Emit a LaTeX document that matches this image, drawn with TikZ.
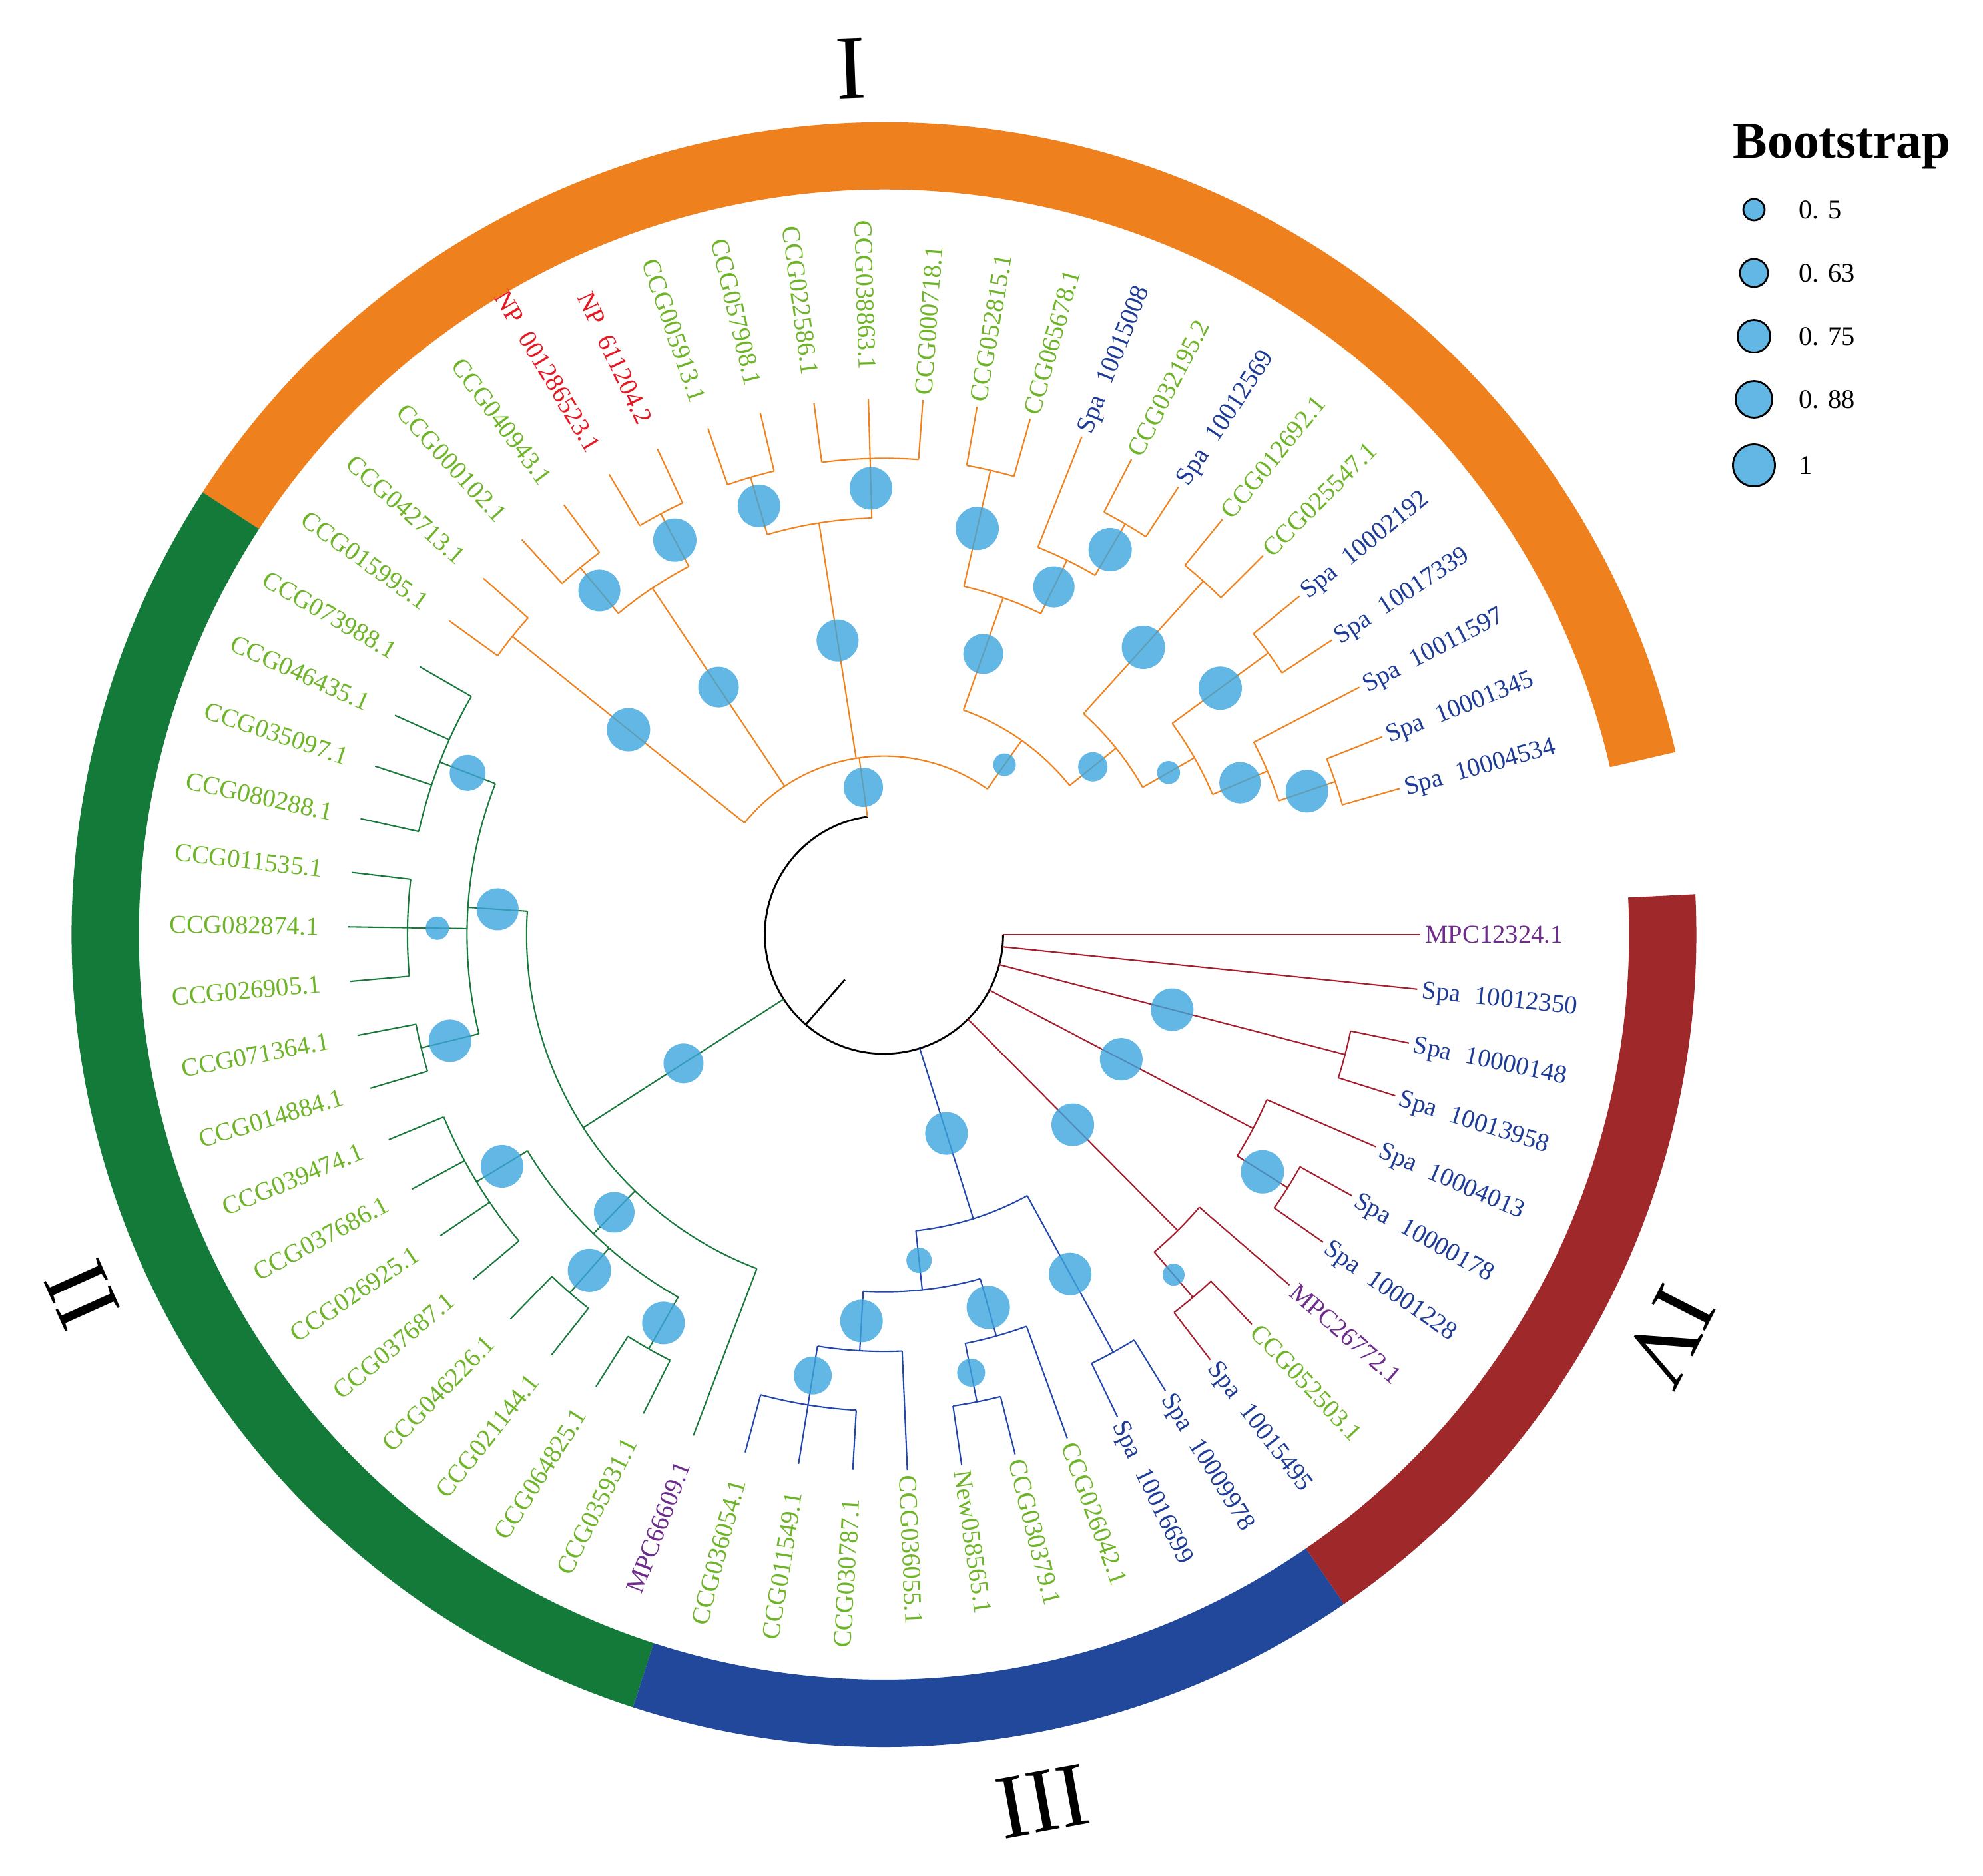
\documentclass[tikz,border=0pt]{standalone}
\usepackage{fontspec}
\setmainfont{Liberation Serif}
\pgfdeclarelayer{fg}
\pgfsetlayers{main,fg}
\definecolor{ringO}{RGB}{238,128,30}
\definecolor{ringG}{RGB}{20,122,58}
\definecolor{ringB}{RGB}{33,72,155}
\definecolor{ringR}{RGB}{158,40,42}
\definecolor{lnO}{RGB}{240,130,30}
\definecolor{lnG}{RGB}{25,120,60}
\definecolor{lnB}{RGB}{35,70,170}
\definecolor{lnR}{RGB}{165,30,45}
\definecolor{txG}{RGB}{110,180,40}
\definecolor{txB}{RGB}{30,60,150}
\definecolor{txR}{RGB}{230,25,35}
\definecolor{txP}{RGB}{110,45,140}
\definecolor{bubc}{RGB}{60,165,221}
\definecolor{legc}{RGB}{99,183,228}
\tikzset{
  br/.style={line width=0.6pt},
  lab/.style={inner sep=0pt, font=\fontsize{11}{13}\selectfont, text height=7.3pt, text depth=0pt},
  bub/.style={circle, fill=bubc, fill opacity=0.8, inner sep=0pt, draw=none},
  roman/.style={inner sep=0pt, font=\fontsize{39}{40}\selectfont},
  legbub/.style={circle, fill=legc, draw=black, line width=0.8pt, inner sep=0pt},
  leglab/.style={anchor=west, inner sep=0pt, font=\fontsize{11.5}{13}\selectfont, text height=7.6pt, text depth=0pt},
}
% #1 name, #2 colour, #3 parent level, #4 level, #5 angle, #6 arc start, #7 arc end, #8 bubble diameter (cm)
\newcommand\clade[8]{%
  \coordinate (#1) at (#5:#4);
  \coordinate (#1p) at (#5:#3);
  \draw[br,#2] (#1p) -- (#1);
  \draw[br,#2] (#6:#4) arc[start angle=#6, end angle=#7, radius=#4];
  \begin{pgfonlayer}{fg}
    \node[bub, minimum size=#8cm] (b#1) at (#5:{(#3+#4)/2}) {};
  \end{pgfonlayer}
}
% #1 index, #2 parent level, #3 line colour, #4 label colour, #5 text
\newcommand\tip[5]{%
  \pgfmathsetmacro\tipang{360-35*#1/6}%
  \pgfmathtruncatemacro\tipflip{(\tipang>90)*(\tipang<270)}%
  \coordinate (s#1) at (\tipang:#2);
  \coordinate (e#1) at (\tipang:9);
  \draw[br,#3] (s#1) -- (e#1);
  \ifnum\tipflip=1
    \node[lab,text=#4,anchor=east,rotate=\tipang+180] (t#1) at (\tipang:9.48) {#5};
  \else
    \node[lab,text=#4,anchor=west,rotate=\tipang] (t#1) at (\tipang:9.08) {#5};
  \fi
}
\newcommand\spa[1]{Spa\hspace{0.55em}#1}
\begin{document}
\begin{tikzpicture}[x=0.8945cm, y=0.8945cm]
\useasboundingbox (-14.841,-15.808) rectangle (18.452,15.696);

% ---------- outer ring ----------
\fill[ringO] (13:12.51) arc[start angle=13, end angle=147, radius=12.51] -- (147:13.64) arc[start angle=147, end angle=13, radius=13.64] -- cycle;
\fill[ringG] (147:12.51) arc[start angle=147, end angle=252, radius=12.51] -- (252:13.64) arc[start angle=252, end angle=147, radius=13.64] -- cycle;
\fill[ringB] (252:12.51) arc[start angle=252, end angle=304.5, radius=12.51] -- (304.5:13.64) arc[start angle=304.5, end angle=252, radius=13.64] -- cycle;
\fill[ringR] (304.5:12.51) arc[start angle=304.5, end angle=362.85, radius=12.51] -- (362.85:13.64) arc[start angle=362.85, end angle=304.5, radius=13.64] -- cycle;

\node[roman, rotate=2.2] (nI) at (92.2:14.56) {I};
\node[roman, rotate=114.2] (nII) at (204.2:14.76) {II};
\node[roman, rotate=-169.6] (nIII) at (-79.6:14.8) {III};
\node[roman, rotate=-117.1] (nIV) at (-27.1:14.8) {IV};

% ---------- root ----------
\coordinate (root) at (228.98:2);
\coordinate (rootin) at (228.98:1);
\draw[line width=0.8pt] (rootin) -- (root);
\draw[line width=0.8pt] (97.96:2) arc[start angle=97.96, end angle=360, radius=2];

% ---------- clade IV (red) ----------
\clade{R1}{lnR}{2}{8}{345.42}{342.5}{348.33}{0.64}
\clade{R2}{lnR}{2}{7}{332.29}{327.92}{336.67}{0.64}
\clade{R3}{lnR}{7}{8}{327.92}{325}{330.83}{0.65}
\clade{R4}{lnR}{2}{7}{314.79}{310.42}{319.17}{0.64}
\clade{R5}{lnR}{7}{8}{310.42}{307.5}{313.33}{0.33}
\tip{0}{2}{lnR}{txP}{MPC12324.1}
\tip{1}{2}{lnR}{txB}{\spa{10012350}}
\tip{2}{8}{lnR}{txB}{\spa{10000148}}
\tip{3}{8}{lnR}{txB}{\spa{10013958}}
\tip{4}{7}{lnR}{txB}{\spa{10004013}}
\tip{5}{8}{lnR}{txB}{\spa{10000178}}
\tip{6}{8}{lnR}{txB}{\spa{10001228}}
\tip{7}{7}{lnR}{txP}{MPC26772.1}
\tip{8}{8}{lnR}{txG}{CCG052503.1}
\tip{9}{8}{lnR}{txB}{\spa{10015495}}

% ---------- clade III (blue) ----------
\clade{B0}{lnB}{2}{5}{287.45}{276.15}{298.75}{0.64}
\clade{B2}{lnB}{5}{8}{298.75}{295.83}{301.67}{0.64}
\clade{B1}{lnB}{5}{6}{276.15}{266.67}{285.63}{0.38}
\clade{B4}{lnB}{6}{7}{285.63}{281.25}{290}{0.65}
\clade{B5}{lnB}{7}{8}{281.25}{278.33}{284.17}{0.42}
\clade{B3}{lnB}{6}{7}{266.67}{260.83}{272.5}{0.64}
\clade{B6}{lnB}{7}{8}{260.83}{255}{266.67}{0.57}
\tip{10}{8}{lnB}{txB}{\spa{10009978}}
\tip{11}{8}{lnB}{txB}{\spa{10016699}}
\tip{12}{7}{lnB}{txG}{CCG026042.1}
\tip{13}{8}{lnB}{txG}{CCG030379.1}
\tip{14}{8}{lnB}{txG}{New058565.1}
\tip{15}{7}{lnB}{txG}{CCG036055.1}
\tip{16}{8}{lnB}{txG}{CCG030787.1}
\tip{17}{8}{lnB}{txG}{CCG011549.1}
\tip{18}{8}{lnB}{txG}{CCG036054.1}

% ---------- clade II (green) ----------
\clade{G0}{lnG}{2}{6}{212.71}{176.25}{249.17}{0.60}
\clade{G2}{lnG}{6}{7}{225.83}{211.25}{240.42}{0.61}
\clade{G4}{lnG}{7}{8}{240.42}{237.5}{243.33}{0.64}
\clade{G5}{lnG}{7}{8}{228.75}{225.83}{231.67}{0.65}
\clade{G3}{lnG}{7}{8}{211.25}{202.5}{220}{0.64}
\clade{G1}{lnG}{6}{7}{176.25}{158.75}{193.75}{0.63}
\clade{G7}{lnG}{7}{8}{193.75}{190.83}{196.67}{0.64}
\clade{G8}{lnG}{7}{8}{179.17}{173.33}{185}{0.35}
\clade{G6}{lnG}{7}{8}{158.75}{150}{167.5}{0.54}
\tip{19}{6}{lnG}{txP}{MPC66609.1}
\tip{20}{8}{lnG}{txG}{CCG035931.1}
\tip{21}{8}{lnG}{txG}{CCG064825.1}
\tip{22}{8}{lnG}{txG}{CCG021144.1}
\tip{23}{8}{lnG}{txG}{CCG046226.1}
\tip{24}{8}{lnG}{txG}{CCG037687.1}
\tip{25}{8}{lnG}{txG}{CCG026925.1}
\tip{26}{8}{lnG}{txG}{CCG037686.1}
\tip{27}{8}{lnG}{txG}{CCG039474.1}
\tip{28}{8}{lnG}{txG}{CCG014884.1}
\tip{29}{8}{lnG}{txG}{CCG071364.1}
\tip{30}{8}{lnG}{txG}{CCG026905.1}
\tip{31}{8}{lnG}{txG}{CCG082874.1}
\tip{32}{8}{lnG}{txG}{CCG011535.1}
\tip{33}{8}{lnG}{txG}{CCG080288.1}
\tip{34}{8}{lnG}{txG}{CCG035097.1}
\tip{35}{8}{lnG}{txG}{CCG046435.1}
\tip{36}{8}{lnG}{txG}{CCG073988.1}

% ---------- clade I (orange) ----------
\clade{O0}{lnO}{2}{3}{97.96}{54.66}{141.25}{0.59}
\clade{OL}{lnO}{3}{8}{141.25}{138.33}{144.17}{0.65}
\clade{OLb}{lnO}{3}{7}{123.75}{117.92}{129.58}{0.61}
\clade{OLba}{lnO}{7}{8}{129.58}{126.67}{132.5}{0.63}
\clade{OLbb}{lnO}{7}{8}{117.92}{115}{120.83}{0.65}
\clade{OM}{lnO}{3}{7}{98.96}{91.67}{106.25}{0.63}
\clade{OMa}{lnO}{7}{8}{106.25}{103.33}{109.17}{0.64}
\clade{OMb}{lnO}{7}{8}{91.67}{85.83}{97.5}{0.64}
\clade{OR}{lnO}{3}{4}{54.66}{38.8}{70.52}{0.34}
\clade{ORa}{lnO}{4}{6}{70.52}{63.96}{77.08}{0.60}
\clade{ORaa}{lnO}{6}{8}{77.08}{74.17}{80}{0.65}
\clade{ORab}{lnO}{6}{7}{63.96}{59.58}{68.33}{0.62}
\clade{ORac}{lnO}{7}{8}{59.58}{56.67}{62.5}{0.65}
\clade{ORb}{lnO}{4}{5}{38.8}{29.69}{47.92}{0.44}
\clade{ORba}{lnO}{5}{8}{47.92}{45}{50.83}{0.65}
\clade{ORc}{lnO}{5}{6}{29.69}{23.13}{36.25}{0.345}
\clade{ORca}{lnO}{6}{8}{36.25}{33.33}{39.17}{0.65}
\clade{ORcb}{lnO}{6}{7}{23.13}{18.75}{27.5}{0.62}
\clade{ORcc}{lnO}{7}{8}{18.75}{15.83}{21.67}{0.64}
\tip{37}{8}{lnO}{txG}{CCG015995.1}
\tip{38}{8}{lnO}{txG}{CCG042713.1}
\tip{39}{8}{lnO}{txG}{CCG000102.1}
\tip{40}{8}{lnO}{txG}{CCG040943.1}
\tip{41}{8}{lnO}{txR}{NP\hspace{0.55em}001286523.1}
\tip{42}{8}{lnO}{txR}{NP\hspace{0.55em}611204.2}
\tip{43}{8}{lnO}{txG}{CCG005913.1}
\tip{44}{8}{lnO}{txG}{CCG057908.1}
\tip{45}{8}{lnO}{txG}{CCG022586.1}
\tip{46}{8}{lnO}{txG}{CCG038863.1}
\tip{47}{8}{lnO}{txG}{CCG000718.1}
\tip{48}{8}{lnO}{txG}{CCG052815.1}
\tip{49}{8}{lnO}{txG}{CCG065678.1}
\tip{50}{7}{lnO}{txB}{\spa{10015008}}
\tip{51}{8}{lnO}{txG}{CCG032195.2}
\tip{52}{8}{lnO}{txB}{\spa{10012569}}
\tip{53}{8}{lnO}{txG}{CCG012692.1}
\tip{54}{8}{lnO}{txG}{CCG025547.1}
\tip{55}{8}{lnO}{txB}{\spa{10002192}}
\tip{56}{8}{lnO}{txB}{\spa{10017339}}
\tip{57}{7}{lnO}{txB}{\spa{10011597}}
\tip{58}{8}{lnO}{txB}{\spa{10001345}}
\tip{59}{8}{lnO}{txB}{\spa{10004534}}

% ---------- root stem bubble ----------
% ---------- legend ----------
\node[anchor=base west, inner sep=0pt, font=\bfseries\fontsize{22}{24}\selectfont] (title) at (14.25,13.046) {Bootstrap};
\node[legbub, minimum size=0.32cm] (k1) at (14.606,12.174) {};
\node[legbub, minimum size=0.42cm] (k2) at (14.606,11.112) {};
\node[legbub, minimum size=0.49cm] (k3) at (14.606,10.050) {};
\node[legbub, minimum size=0.55cm] (k4) at (14.606,8.988) {};
\node[legbub, minimum size=0.63cm] (k5) at (14.606,7.881) {};
\node[leglab] (v1) at (15.351,12.174) {0. 5};
\node[leglab] (v2) at (15.351,11.112) {0. 63};
\node[leglab] (v3) at (15.351,10.050) {0. 75};
\node[leglab] (v4) at (15.351,8.988) {0. 88};
\node[leglab] (v5) at (15.351,7.881) {1};
\end{tikzpicture}
\end{document}
